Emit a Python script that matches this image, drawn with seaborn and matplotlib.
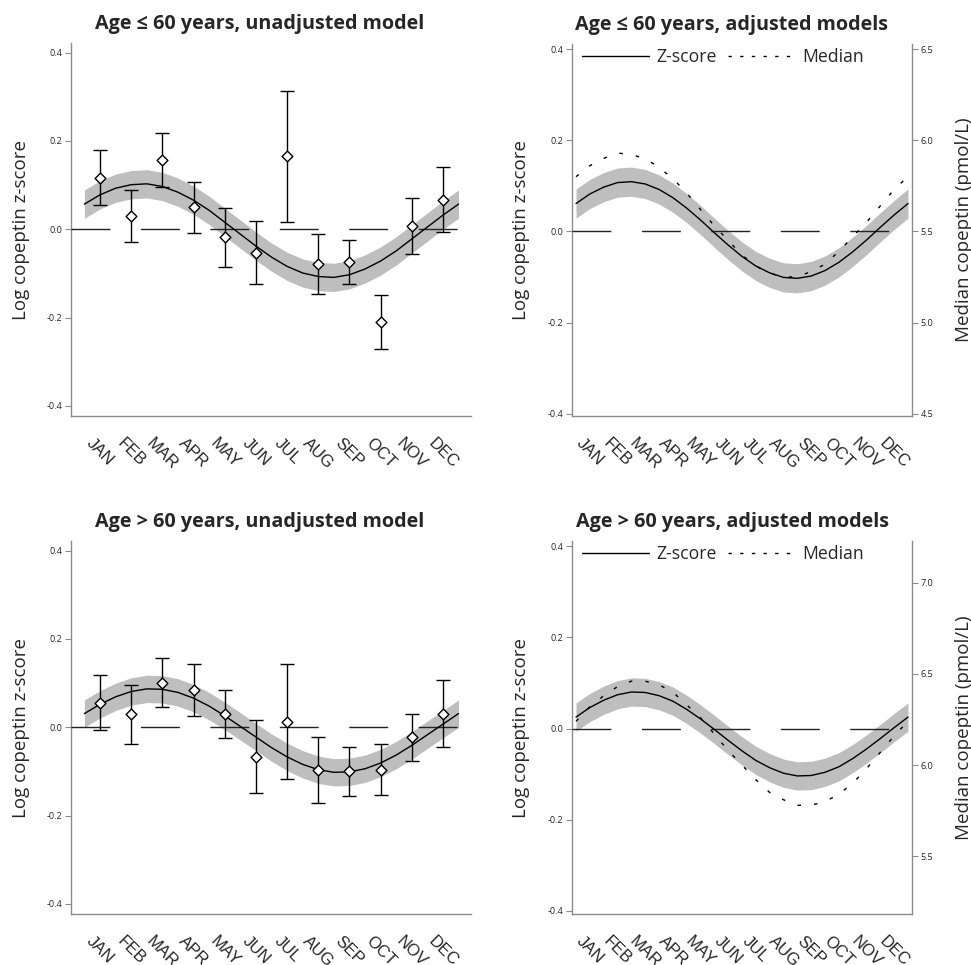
import pandas as pd
import seaborn as sns
import matplotlib.pyplot as plt
from matplotlib.lines import Line2D

months = ['JAN', 'FEB', 'MAR', 'APR', 'MAY', 'JUN', 'JUL', 'AUG', 'SEP', 'OCT', 'NOV', 'DEC']
month_pos = [1, 2, 3, 4, 5, 6, 7, 8, 9, 10, 11, 12]
grid = [0.5, 1.0, 1.5, 2.0, 2.5, 3.0, 3.5, 4.0, 4.5, 5.0, 5.5, 6.0, 6.5,
        7.0, 7.5, 8.0, 8.5, 9.0, 9.5, 10.0, 10.5, 11.0, 11.5, 12.0, 12.5]

z_ticks = [0.4, 0.2, 0.0, -0.2, -0.4]
z_tick_labels = ['0.4', '0.2', '0.0', '-0.2', '-0.4']

# Age <= 60, unadjusted: monthly means with 95% CI and fitted curve
le60_mean = [0.117, 0.030, 0.157, 0.050, -0.018, -0.053, 0.165, -0.078, -0.075, -0.211, 0.008, 0.066]
le60_low = [0.055, -0.029, 0.096, -0.008, -0.085, -0.125, 0.016, -0.146, -0.125, -0.272, -0.057, -0.007]
le60_high = [0.179, 0.090, 0.219, 0.107, 0.048, 0.019, 0.314, -0.011, -0.024, -0.148, 0.071, 0.140]
le60_fit = [0.057, 0.078, 0.093, 0.101, 0.103, 0.097, 0.084, 0.066, 0.043, 0.016, -0.011, -0.038, -0.063,
            -0.084, -0.099, -0.107, -0.109, -0.103, -0.090, -0.072, -0.049, -0.022, 0.005, 0.032, 0.057]
le60_ci = 0.032

# Age <= 60, adjusted models
le60_adj_fit = [0.061, 0.082, 0.097, 0.107, 0.109, 0.104, 0.092, 0.074, 0.051, 0.025, -0.003, -0.030, -0.055,
                -0.076, -0.091, -0.101, -0.103, -0.098, -0.086, -0.068, -0.045, -0.019, 0.009, 0.036, 0.061]
le60_adj_ci = 0.032
le60_median = [5.80, 5.86, 5.90, 5.93, 5.92, 5.90, 5.85, 5.79, 5.71, 5.62, 5.53, 5.45, 5.37,
               5.31, 5.27, 5.25, 5.25, 5.28, 5.32, 5.39, 5.47, 5.55, 5.64, 5.73, 5.80]
le60_med_ticks = [6.5, 6.0, 5.5, 5.0, 4.5]
le60_med_labels = ['6.5', '6.0', '5.5', '5.0', '4.5']

# Age > 60, unadjusted
gt60_mean = [0.055, 0.029, 0.101, 0.084, 0.029, -0.067, 0.013, -0.096, -0.099, -0.096, -0.023, 0.031]
gt60_low = [-0.007, -0.037, 0.045, 0.026, -0.024, -0.148, -0.118, -0.172, -0.156, -0.153, -0.077, -0.045]
gt60_high = [0.118, 0.095, 0.157, 0.143, 0.084, 0.016, 0.143, -0.021, -0.044, -0.039, 0.029, 0.107]
gt60_fit = [0.031, 0.052, 0.069, 0.081, 0.087, 0.086, 0.079, 0.066, 0.048, 0.026, 0.002, -0.022, -0.046,
            -0.067, -0.084, -0.096, -0.102, -0.101, -0.094, -0.081, -0.063, -0.041, -0.017, 0.007, 0.031]
gt60_ci = 0.031

# Age > 60, adjusted models
gt60_adj_fit = [0.025, 0.046, 0.062, 0.074, 0.080, 0.079, 0.072, 0.060, 0.042, 0.021, -0.002, -0.026, -0.049,
                -0.070, -0.086, -0.098, -0.104, -0.103, -0.096, -0.084, -0.066, -0.045, -0.022, 0.002, 0.025]
gt60_adj_ci = 0.031
gt60_median = [6.24, 6.32, 6.38, 6.43, 6.46, 6.46, 6.44, 6.40, 6.33, 6.26, 6.17, 6.08, 6.00,
               5.92, 5.85, 5.81, 5.78, 5.78, 5.80, 5.84, 5.90, 5.98, 6.07, 6.16, 6.24]
gt60_med_ticks = [7.0, 6.5, 6.0, 5.5]
gt60_med_labels = ['7.0', '6.5', '6.0', '5.5']

sns.set_theme(style='white')
plt.rcParams['font.family'] = ['Open Sans', 'DejaVu Sans']
plt.rcParams['axes.unicode_minus'] = False

W, H = 971, 965
fig = plt.figure(figsize=(W / 100, H / 100), dpi=100)

SPINE = '#8c8c8c'
BAND = '#bebebe'
LABEL_SIZE = 13.5


def add_axes(l, t, r, b):
    return fig.add_axes([l / W, 1 - b / H, (r - l) / W, (b - t) / H])


def base_axes(ax, xlim, ylim):
    ax.set_xlim(*xlim)
    ax.set_ylim(*ylim)
    for side in ['top', 'right']:
        ax.spines[side].set_visible(False)
    for side in ['left', 'bottom']:
        ax.spines[side].set_color(SPINE)
        ax.spines[side].set_linewidth(1)
    ax.set_xticks(month_pos)
    ax.set_xticklabels(months, rotation=-45, ha='center', va='top',
                       family='Liberation Sans', fontsize=12)
    ax.tick_params(axis='x', length=0, pad=14)
    ax.set_yticks(z_ticks)
    ax.set_yticklabels(z_tick_labels, fontsize=6.5)
    ax.tick_params(axis='y', left=True, length=4, width=0.8, color=SPINE, pad=2, labelcolor='#222222')
    ax.axhline(0, color='#222222', lw=1, dashes=(28, 22), zorder=3)


def draw_fit(ax, fit, ci):
    df = pd.DataFrame({'month': grid, 'fit': fit})
    ax.fill_between(df['month'], df['fit'] - ci, df['fit'] + ci, color=BAND, lw=0, zorder=1)
    sns.lineplot(data=df, x='month', y='fit', ax=ax, color='black', lw=1, zorder=4)


def unadjusted(ax, mean, low, high, fit, ci):
    base_axes(ax, (0.07, 12.9), (-0.423, 0.422))
    draw_fit(ax, fit, ci)
    pts = pd.DataFrame({'month': month_pos, 'mean': mean, 'low': low, 'high': high})
    ax.errorbar(pts['month'], pts['mean'], yerr=[pts['mean'] - pts['low'], pts['high'] - pts['mean']],
                fmt='none', ecolor='black', elinewidth=1, capsize=5.3, capthick=1, zorder=5)
    sns.scatterplot(data=pts, x='month', y='mean', ax=ax, marker='D', s=30,
                    facecolor='white', edgecolor='black', linewidth=1, zorder=6)
    ax.set_xlabel('')
    ax.set_ylabel('Log copeptin z-score', fontsize=LABEL_SIZE)
    ax.yaxis.set_label_coords(-0.1025, 0.5)


def adjusted(ax, fit, ci, median, med_ticks, med_labels, med_lim, zlim):
    base_axes(ax, (0.355, 12.645), zlim)
    draw_fit(ax, fit, ci)
    ax.set_xlabel('')
    ax.set_ylabel('Log copeptin z-score', fontsize=LABEL_SIZE)
    ax.yaxis.set_label_coords(-0.1235, 0.5)
    ax2 = ax.twinx()
    ax2.set_ylim(*med_lim)
    dfm = pd.DataFrame({'month': grid, 'median': median})
    sns.lineplot(data=dfm, x='month', y='median', ax=ax2, color='black', lw=1)
    ax2.lines[-1].set_dashes((2.5, 9.5))
    ax2.set_yticks(med_ticks)
    ax2.set_yticklabels(med_labels, fontsize=6.5)
    ax2.tick_params(axis='y', right=True, length=4, width=0.8, color=SPINE, pad=2, labelcolor='#222222')
    for side in ['top', 'left', 'bottom']:
        ax2.spines[side].set_visible(False)
    ax2.spines['right'].set_color(SPINE)
    ax2.spines['right'].set_linewidth(1)
    ax2.set_xlabel('')
    ax2.set_ylabel('Median copeptin (pmol/L)', fontsize=LABEL_SIZE)
    ax2.yaxis.set_label_coords(1.125, 0.5)
    ax2.grid(False)
    handles = [Line2D([], [], color='black', lw=1),
               Line2D([], [], color='black', lw=1, dashes=(2.4, 6))]
    ax.legend(handles, ['Z-score', 'Median'], ncol=2, frameon=False, loc='upper left',
              bbox_to_anchor=(0.029, 0.988), borderpad=0, borderaxespad=0,
              handlelength=3.8, handletextpad=0.4, columnspacing=0.65, fontsize=12.7)


ax_tl = add_axes(71, 43, 471, 416)
unadjusted(ax_tl, le60_mean, le60_low, le60_high, le60_fit, le60_ci)

ax_tr = add_axes(572, 44, 912, 416)
adjusted(ax_tr, le60_adj_fit, le60_adj_ci, le60_median, le60_med_ticks, le60_med_labels,
         (4.4875, 6.5275), (-0.405, 0.411))

ax_bl = add_axes(71, 541, 471, 914)
unadjusted(ax_bl, gt60_mean, gt60_low, gt60_high, gt60_fit, gt60_ci)

ax_br = add_axes(572, 541, 912, 914)
adjusted(ax_br, gt60_adj_fit, gt60_adj_ci, gt60_median, gt60_med_ticks, gt60_med_labels,
         (5.184, 7.228), (-0.4066, 0.411))

title_kw = dict(ha='center', va='center', fontsize=14.2, fontweight='bold')
fig.text(260 / W, 1 - 24 / H, 'Age ≤ 60 years, unadjusted model', **title_kw)
fig.text(731 / W, 1 - 25 / H, 'Age ≤ 60 years, adjusted models', **title_kw)
fig.text(260 / W, 1 - 522 / H, 'Age > 60 years, unadjusted model', **title_kw)
fig.text(732 / W, 1 - 522 / H, 'Age > 60 years, adjusted models', **title_kw)

fig.savefig('out.png', dpi=100, facecolor='white')
